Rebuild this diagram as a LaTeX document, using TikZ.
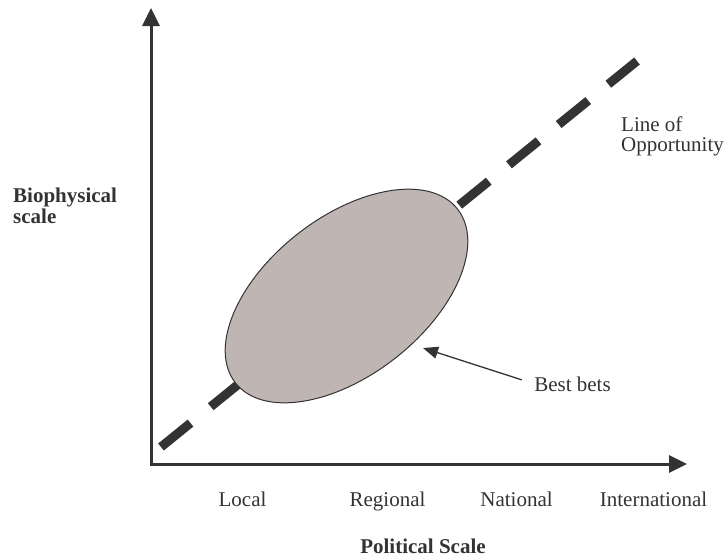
\documentclass[tikz,border=0pt]{standalone}
\usepackage{fontspec}
\setmainfont{Liberation Serif}
\usetikzlibrary{arrows.meta,shapes.geometric}
\definecolor{inkgray}{HTML}{333333}
\definecolor{blobfill}{HTML}{BFB6B3}

\begin{document}
\begin{tikzpicture}[x=1pt,y=-1pt,
    axis/.style={draw=inkgray,line width=3pt,
      {Triangle[length=18pt,width=17pt]}-{Triangle[length=18pt,width=17pt]}},
    opportunity/.style={draw=inkgray,line width=9pt,dash pattern=on 38pt off 26pt},
    bets area/.style={ellipse,draw=inkgray,line width=1pt,fill=blobfill,inner sep=0pt,
      minimum width=282pt,minimum height=158pt,rotate=38},
    pointer/.style={draw=inkgray,line width=1.3pt,-{Triangle[length=15pt,width=12pt]}},
    scale label/.style={font=\fontsize{21}{20}\selectfont,text=inkgray,inner sep=0pt},
    axis title/.style={font=\fontsize{21}{21}\selectfont\bfseries,text=inkgray,inner sep=0pt}]
  \useasboundingbox (0,0) rectangle (726,558);

  % Define points
  \coordinate (origin) at (151,464);
  \coordinate (ytip) at (151,8);
  \coordinate (xtip) at (687,464);
  \coordinate (lstart) at (161,447);
  \coordinate (lend) at (637,61);
  \coordinate (tip) at (423,348);

  % Axes and line of opportunity
  \draw[axis] (ytip) -- (origin) -- (xtip);
  \draw[opportunity] (lstart) -- (lend);
  \node[bets area] (area) at (346.5,296) {};

  % Labels
  \node[axis title,anchor=base west,align=left] (bio) at (13,223) {Biophysical\\scale};
  \node[scale label,anchor=base west,align=left] (loo) at (621,151) {Line of\\Opportunity};
  \node[scale label,anchor=base] (local) at (242.5,506) {Local};
  \node[scale label,anchor=base] (regional) at (387.5,506) {Regional};
  \node[scale label,anchor=base] (national) at (516.5,506) {National};
  \node[scale label,anchor=base] (intl) at (653.5,506) {International};
  \node[axis title,anchor=base] (political) at (423,553) {Political Scale};
  \node[scale label,anchor=base] (bets) at (572.5,391) {Best bets};

  % Draw pointer
  \draw[pointer,shorten <=13pt] (bets.west) -- (tip);

\end{tikzpicture}
\end{document}
